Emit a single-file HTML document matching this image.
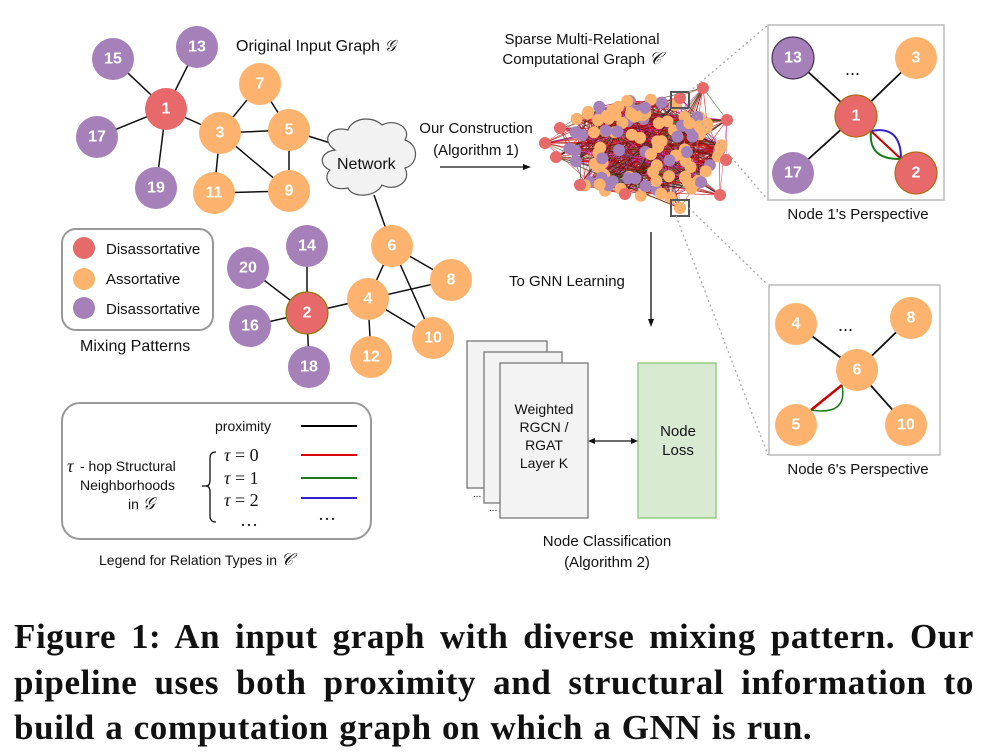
<!DOCTYPE html>
<html><head><meta charset="utf-8"><style>
body{margin:0;background:#fff;width:998px;height:753px;overflow:hidden}
svg{position:absolute;left:0;top:0}
.t{font-family:"Liberation Sans",sans-serif;font-size:15px;fill:#111}
.n{font-family:"Liberation Sans",sans-serif;font-size:16px;font-weight:bold;fill:#fff;text-anchor:middle;dominant-baseline:central}
.cap{position:absolute;left:14px;width:960px;font-family:"Liberation Serif",serif;font-weight:bold;font-size:35px;letter-spacing:0.6px;word-spacing:1px;line-height:45.5px;top:614px;color:#111}
.cap div{text-align:justify;text-align-last:justify;white-space:nowrap}
.cap div.l{text-align-last:left}
</style></head><body>
<svg width="998" height="753" id="s">
<g stroke="#111" stroke-width="1.5" fill="none">
<line x1="166" y1="109" x2="113" y2="59"/><line x1="166" y1="109" x2="197" y2="47"/>
<line x1="166" y1="109" x2="97" y2="137"/><line x1="166" y1="109" x2="156" y2="188"/>
<line x1="166" y1="109" x2="220" y2="133"/><line x1="220" y1="133" x2="260" y2="84"/>
<line x1="260" y1="84" x2="289" y2="130"/><line x1="220" y1="133" x2="289" y2="130"/>
<line x1="220" y1="133" x2="214" y2="193"/><line x1="220" y1="133" x2="289" y2="191"/>
<line x1="289" y1="130" x2="289" y2="191"/><line x1="214" y1="193" x2="289" y2="191"/>
<line x1="289" y1="130" x2="340" y2="146"/><line x1="374" y1="195" x2="392" y2="246"/>
<line x1="392" y1="246" x2="368" y2="299"/><line x1="392" y1="246" x2="451" y2="280"/>
<line x1="392" y1="246" x2="433" y2="338"/><line x1="368" y1="299" x2="451" y2="280"/>
<line x1="368" y1="299" x2="433" y2="338"/><line x1="368" y1="299" x2="371" y2="357"/>
<line x1="368" y1="299" x2="307" y2="313"/><line x1="307" y1="313" x2="307" y2="246"/>
<line x1="307" y1="313" x2="248" y2="268"/><line x1="307" y1="313" x2="250" y2="326"/>
<line x1="307" y1="313" x2="309" y2="367"/>
</g>
<path d="M335,150 C320,140 330,125 348,130 C352,118 372,115 382,125 C395,118 412,128 405,140 C420,145 418,165 405,168 C412,182 395,192 382,185 C375,198 352,198 348,188 C330,192 322,178 330,170 C318,165 320,152 335,150Z" fill="#f2f2f2" stroke="#555" stroke-width="1.2"/>
<text class="t" x="337" y="169" style="font-size:16px">Network</text>
<g id="nodes"></g>
<text class="t" x="236" y="51" style="font-size:16px">Original Input Graph <tspan font-family="Liberation Serif" font-style="italic">𝒢</tspan></text>
<rect x="62" y="229" width="151" height="101" rx="14" fill="none" stroke="#999" stroke-width="2"/>
<circle cx="84" cy="248" r="11" fill="#E8696A"/><circle cx="84" cy="279" r="11" fill="#FDB36E"/><circle cx="84" cy="308" r="11" fill="#A680B8"/>
<text class="t" x="106" y="254">Disassortative</text><text class="t" x="106" y="284">Assortative</text><text class="t" x="106" y="314">Disassortative</text>
<text class="t" x="80" y="351" style="font-size:16px">Mixing Patterns</text>
<rect x="62" y="403" width="309" height="136" rx="18" fill="none" stroke="#999" stroke-width="2"/>
<text class="t" x="215" y="431" style="font-size:14px">proximity</text>
<line x1="301" y1="426" x2="357" y2="426" stroke="#000" stroke-width="2"/>
<line x1="301" y1="455" x2="357" y2="455" stroke="#d00" stroke-width="2"/>
<line x1="301" y1="478" x2="357" y2="478" stroke="#1a7a1a" stroke-width="2"/>
<line x1="301" y1="498" x2="357" y2="498" stroke="#3322cc" stroke-width="2"/>
<g font-family="Liberation Serif" font-size="18" fill="#111"><text x="224" y="461"><tspan font-style="italic">τ</tspan> = 0</text><text x="224" y="484"><tspan font-style="italic">τ</tspan> = 1</text><text x="224" y="506"><tspan font-style="italic">τ</tspan> = 2</text><text x="240" y="526">…</text><text x="318" y="520">…</text>
<text x="67" y="472" font-style="italic">τ</text></g>
<text class="t" x="80" y="471" style="font-size:14px">- hop Structural</text>
<text class="t" x="80" y="490" style="font-size:14px">Neighborhoods</text>
<text class="t" x="128" y="509" style="font-size:14px">in <tspan font-family="Liberation Serif" font-style="italic" font-size="17">𝒢</tspan></text>
<path d="M202,486 h5 M216,452 q-6,0 -6,6 v22 q0,6 -4,6 q4,0 4,6 v24 q0,6 6,6" fill="none" stroke="#111" stroke-width="1.3"/>
<text class="t" x="99" y="565" style="font-size:14px">Legend for Relation Types in <tspan font-family="Liberation Serif" font-style="italic" font-size="17">𝒞</tspan></text>
<text class="t" x="582" y="44" text-anchor="middle">Sparse Multi-Relational</text>
<text class="t" x="582" y="64" text-anchor="middle">Computational Graph <tspan font-family="Liberation Serif" font-style="italic" font-size="17">𝒞</tspan></text>
<text class="t" x="476" y="133" text-anchor="middle">Our Construction</text>
<text class="t" x="476" y="155" text-anchor="middle">(Algorithm 1)</text>
<line x1="440" y1="167" x2="524" y2="167" stroke="#111" stroke-width="1.3"/><path d="M531,167 l-8,-3 v6z" fill="#111"/>
<g id="blob"></g>
<rect x="671" y="92" width="18" height="16" fill="none" stroke="#555" stroke-width="2"/>
<rect x="671" y="200" width="18" height="16" fill="none" stroke="#555" stroke-width="2"/>
<g stroke="#aaa" stroke-width="1.3" stroke-dasharray="2,3"><line x1="689" y1="92" x2="768" y2="25"/><line x1="689" y1="108" x2="768" y2="200"/><line x1="689" y1="208" x2="768" y2="285"/><line x1="676" y1="216" x2="768" y2="455"/></g>
<line x1="651" y1="232" x2="651" y2="320" stroke="#111" stroke-width="1.3"/><path d="M651,327 l-3,-8 h6z" fill="#111"/>
<text class="t" x="509" y="286">To GNN Learning</text>
<rect x="467" y="341" width="80" height="147" fill="#f3f3f3" stroke="#777" stroke-width="1.3"/>
<rect x="484" y="352" width="78" height="151" fill="#f3f3f3" stroke="#777" stroke-width="1.3"/>
<rect x="500" y="363" width="88" height="155" fill="#f3f3f3" stroke="#777" stroke-width="1.3"/>
<text class="t" x="473" y="497" style="font-size:10px">...</text><text class="t" x="489" y="511" style="font-size:10px">...</text>
<g class="t" style="font-size:14px" text-anchor="middle"><text x="544" y="414">Weighted</text><text x="544" y="432">RGCN /</text><text x="544" y="450">RGAT</text><text x="544" y="468">Layer K</text></g>
<rect x="638" y="363" width="78" height="155" fill="#d9ead3" stroke="#8bc57a" stroke-width="1.3"/>
<text class="t" x="678" y="436" text-anchor="middle">Node</text><text class="t" x="678" y="455" text-anchor="middle">Loss</text>
<line x1="594" y1="441" x2="632" y2="441" stroke="#111" stroke-width="1.2"/><path d="M588,441 l7,-3 v6z M638,441 l-7,-3 v6z" fill="#111"/>
<text class="t" x="607" y="546" text-anchor="middle">Node Classification</text>
<text class="t" x="607" y="567" text-anchor="middle">(Algorithm 2)</text>
<rect x="768" y="25" width="176" height="175" fill="#fff" stroke="#bbb" stroke-width="1.5"/>
<g stroke="#111" stroke-width="1.8"><line x1="856" y1="116" x2="793" y2="58"/><line x1="856" y1="116" x2="916" y2="58"/><line x1="856" y1="116" x2="793" y2="173"/></g>
<line x1="871" y1="131" x2="901" y2="159" stroke="#c00" stroke-width="2"/>
<path d="M871,131 Q901,125 901,159" fill="none" stroke="#3322cc" stroke-width="2"/>
<path d="M871,131 Q868,160 901,159" fill="none" stroke="#1a7a1a" stroke-width="2"/>
<text class="t" x="845" y="75" style="font-size:18px">...</text>
<text class="t" x="858" y="219" text-anchor="middle">Node 1's Perspective</text>
<rect x="769" y="285" width="171" height="170" fill="#fff" stroke="#bbb" stroke-width="1.5"/>
<g stroke="#111" stroke-width="1.8"><line x1="857" y1="370" x2="796" y2="324"/><line x1="857" y1="370" x2="911" y2="318"/><line x1="857" y1="370" x2="906" y2="425"/></g>
<line x1="842" y1="385" x2="811" y2="410" stroke="#c00" stroke-width="2.5"/>
<path d="M842,385 Q848,416 811,410" fill="none" stroke="#1a7a1a" stroke-width="1.5"/>
<text class="t" x="838" y="331" style="font-size:18px">...</text>
<text class="t" x="858" y="474" text-anchor="middle">Node 6's Perspective</text>
<g id="pn"></g>
</svg>
<div class="cap"><div>Figure 1: An input graph with diverse mixing pattern. Our</div><div>pipeline uses both proximity and structural information to</div><div class="l">build a computation graph on which a GNN is run.</div></div>
<script>
var R="#E8696A",O="#FDB36E",P="#A680B8",NS="http://www.w3.org/2000/svg";
function c(g,x,y,r,f,l,st){var e=document.createElementNS(NS,"circle");e.setAttribute("cx",x);e.setAttribute("cy",y);e.setAttribute("r",r);e.setAttribute("fill",f);if(st){e.setAttribute("stroke",st);e.setAttribute("stroke-width",1.2)}g.appendChild(e);if(l){var t=document.createElementNS(NS,"text");t.setAttribute("class","n");t.setAttribute("x",x);t.setAttribute("y",y);t.textContent=l;g.appendChild(t)}}
var g=document.getElementById("nodes");
[[113,59,P,15],[197,47,P,13],[166,109,R,1],[97,137,P,17],[156,188,P,19],[260,84,O,7],[220,133,O,3],[289,130,O,5],[214,193,O,11],[289,191,O,9],[392,246,O,6],[451,280,O,8],[368,299,O,4],[433,338,O,10],[371,357,O,12],[307,246,P,14],[248,268,P,20],[250,326,P,16],[309,367,P,18]].forEach(function(a){c(g,a[0],a[1],21,a[2],a[3])});
c(g,307,313,21,R,"2","#8a7a00");
var p=document.getElementById("pn");
c(p,793,58,21,P,"13","#443355");c(p,916,58,21,O,"3");c(p,856,116,21,R,"1","#b06a10");c(p,793,173,21,P,"17");c(p,916,173,21,R,"2","#b06a10");
c(p,796,324,21,O,"4");c(p,911,318,21,O,"8");c(p,857,370,21,O,"6");c(p,796,425,21,O,"5");c(p,906,425,21,O,"10");
var b=document.getElementById("blob"),s=7;function rn(){s=(s*16807)%2147483647;return s/2147483647}
var pts=[];for(var i=0;i<110;i++){var a=rn()*6.283,r=Math.pow(rn(),0.4);var x=640+Math.cos(a)*r*82,y=150+Math.sin(a)*r*52;pts.push([x,y])}
var ext=[[545,143],[560,128],[556,157],[680,98],[703,88],[727,120],[726,160],[720,195],[625,194],[580,185],[680,208]];
ext.forEach(function(q){pts.push(q)});
var cols=["#c00","#8b0000","#d040d0","#222","#2a7a2a","#e05050","#c00"];
for(var i=0;i<1100;i++){var A=pts[Math.floor(rn()*pts.length)],B=pts[Math.floor(rn()*pts.length)];var l=document.createElementNS(NS,"line");l.setAttribute("x1",A[0]);l.setAttribute("y1",A[1]);l.setAttribute("x2",B[0]);l.setAttribute("y2",B[1]);l.setAttribute("stroke",cols[Math.floor(rn()*7)]);l.setAttribute("stroke-width",0.7);l.setAttribute("opacity",0.75);b.appendChild(l)}
var cc=[O,O,P,P,O];pts.forEach(function(q,i){var f=i>=110?(i==pts.length-1?O:R):cc[Math.floor(rn()*5)];c(b,q[0],q[1],6,f)});
</script>
</body></html>
